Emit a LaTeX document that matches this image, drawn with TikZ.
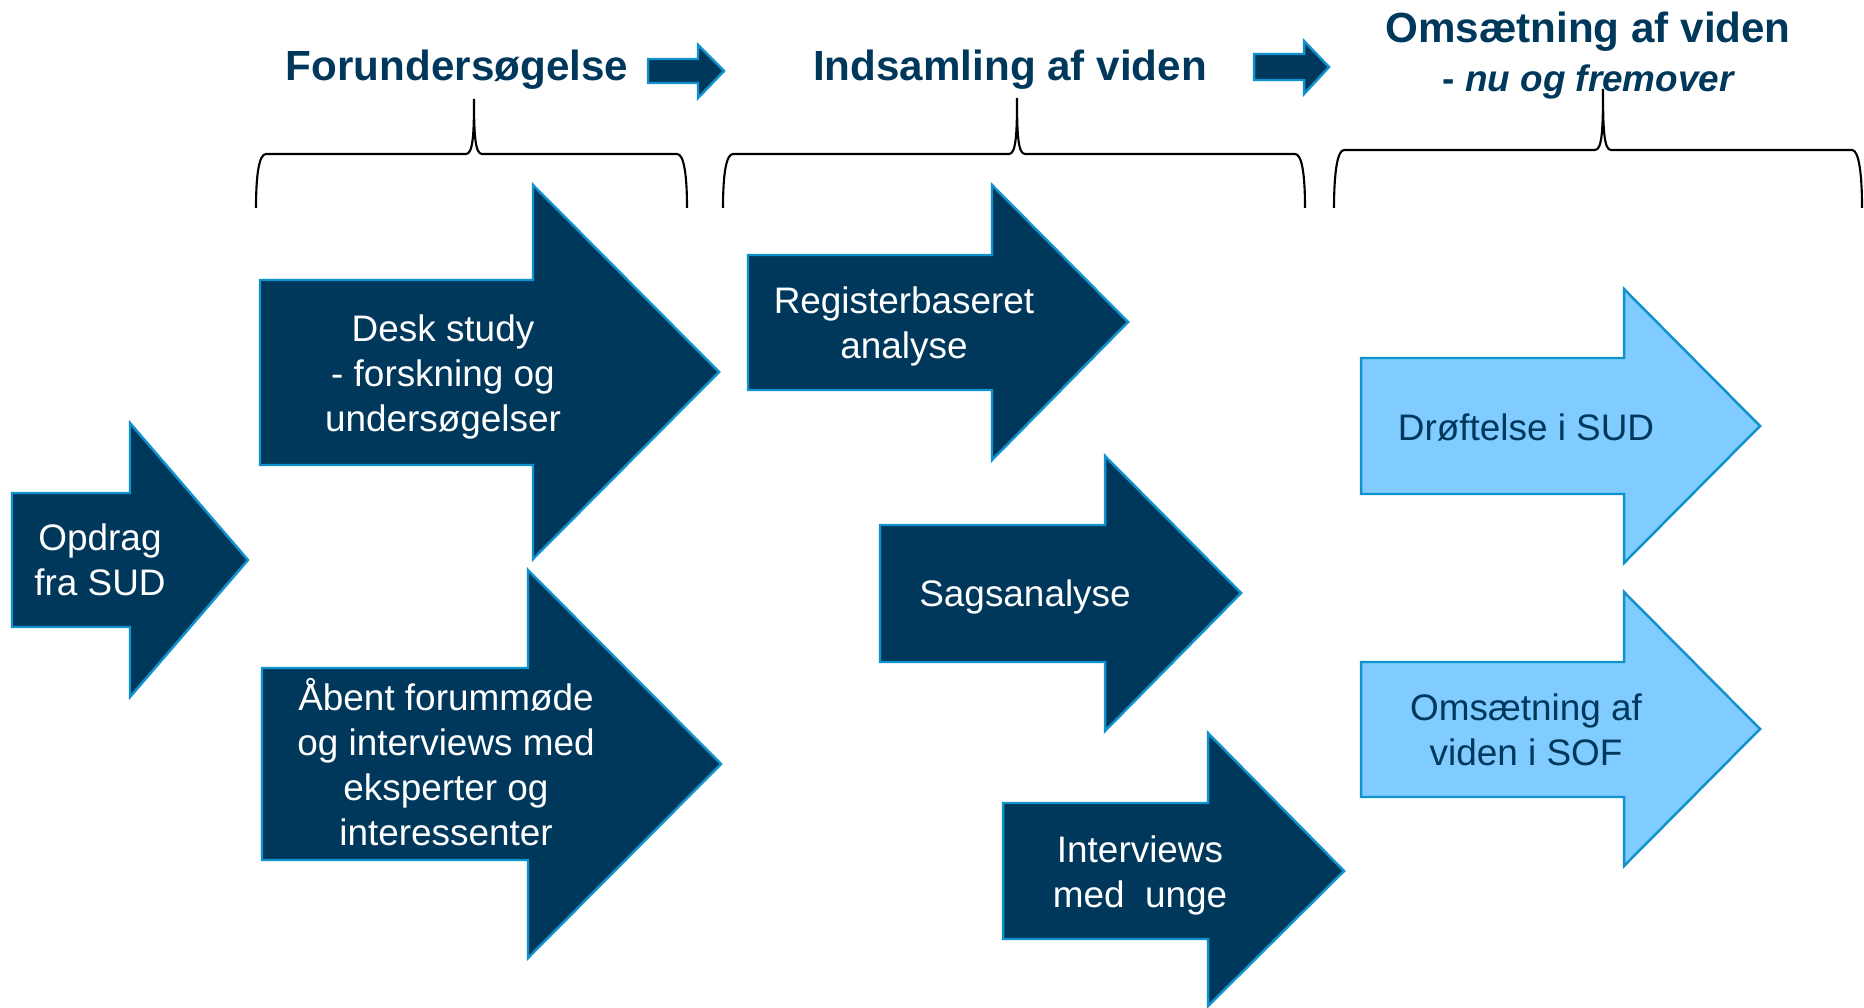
\documentclass[tikz,border=0pt]{standalone}
\usepackage{fontspec}
\setmainfont{Liberation Sans}

\definecolor{navy}{RGB}{0,56,92}
\definecolor{edgeblue}{RGB}{16,146,204}
\definecolor{skyblue}{RGB}{128,203,255}

\begin{document}
\begin{tikzpicture}[x=0.1mm, y=-0.1mm,
    darkarrow/.style={draw=edgeblue, line width=0.7pt, fill=navy},
    lightarrow/.style={draw=edgeblue, line width=0.7pt, fill=skyblue},
    darktext/.style={text=white, align=center, font=\fontsize{10.5}{12.8}\selectfont},
    lighttext/.style={text=navy, align=center, font=\fontsize{10.5}{12.8}\selectfont},
    phase/.style={text=navy, anchor=base, font=\bfseries\fontsize{12}{14}\selectfont},
    bracket/.style={line width=0.6pt}]

    \useasboundingbox (0,0) rectangle (1864,1007);

    % phase headings, with the small arrows in between
    \node[phase] (forund) at (457,81) {Forundersøgelse};
    \node[phase] (indsaml) at (1010,81) {Indsamling af viden};
    \node[phase] (omsaet) at (1588,43) {Omsætning af viden};
    \node[phase, font=\bfseries\fontsize{10.5}{12.8}\selectfont] (fremover) at (1589,92) {- \textit{nu og fremover}};
    \draw[darkarrow] (648,59) -| (698,45) -- (724,71) -- (698,98) |- (648,83) -- cycle;
    \draw[darkarrow] (1254,54) -| (1304,41) -- (1329,67) -- (1304,94) |- (1254,80) -- cycle;

    % curly brackets under the headings
    \foreach \l/\c/\r/\h/\t in {256/474/687/154/99, 723/1017/1305/154/98, 1334/1603/1862/150/89} {
        \draw[bracket] (\l,208) .. controls (\l,175) and (\l+3,\h) .. (\l+10,\h) -- (\c-8,\h)
            .. controls (\c-1,\h) and (\c,\h-20) .. (\c,\t)
            .. controls (\c,\h-20) and (\c+1,\h) .. (\c+8,\h) -- (\r-10,\h)
            .. controls (\r-3,\h) and (\r,175) .. (\r,208);
    }

    % the assignment
    \draw[darkarrow] (12,493) -| (130,423) -- (248,560) -- (130,697) |- (12,627) -- cycle;
    \node[darktext] (opdrag) at (100,560) {Opdrag\\fra SUD};

    % Forundersøgelse
    \draw[darkarrow] (260,280) -| (533,185) -- (719,372) -- (533,559) |- (260,465) -- cycle;
    \node[darktext] (desk) at (443,377) {Desk study\\- forskning og\\undersøgelser};
    \draw[darkarrow] (262,668) -| (528,570) -- (721,764) -- (528,958) |- (262,860) -- cycle;
    \node[darktext] (aabent) at (446,762) {Åbent forummøde\\og interviews med\\eksperter og\\interessenter};

    % Indsamling af viden
    \draw[darkarrow] (748,255) -| (992,185) -- (1128,322) -- (992,460) |- (748,390) -- cycle;
    \node[darktext] (register) at (904,326) {Registerbaseret\\analyse};
    \draw[darkarrow] (880,525) -| (1105,456) -- (1241,593) -- (1105,731) |- (880,662) -- cycle;
    \node[darktext] (sags) at (1025,597) {Sagsanalyse};
    \draw[darkarrow] (1003,803) -| (1208,733) -- (1344,871) -- (1208,1006) |- (1003,939) -- cycle;
    \node[darktext] (unge) at (1140,875) {Interviews\\med\ \ unge};

    % Omsætning af viden
    \draw[lightarrow] (1361,358) -| (1624,289) -- (1760,426) -- (1624,563) |- (1361,494) -- cycle;
    \node[lighttext] (droeft) at (1526,427) {Drøftelse i SUD};
    \draw[lightarrow] (1361,662) -| (1624,592) -- (1760,729) -- (1624,866) |- (1361,797) -- cycle;
    \node[lighttext] (sof) at (1526,730) {Omsætning af\\viden i SOF};

\end{tikzpicture}
\end{document}
